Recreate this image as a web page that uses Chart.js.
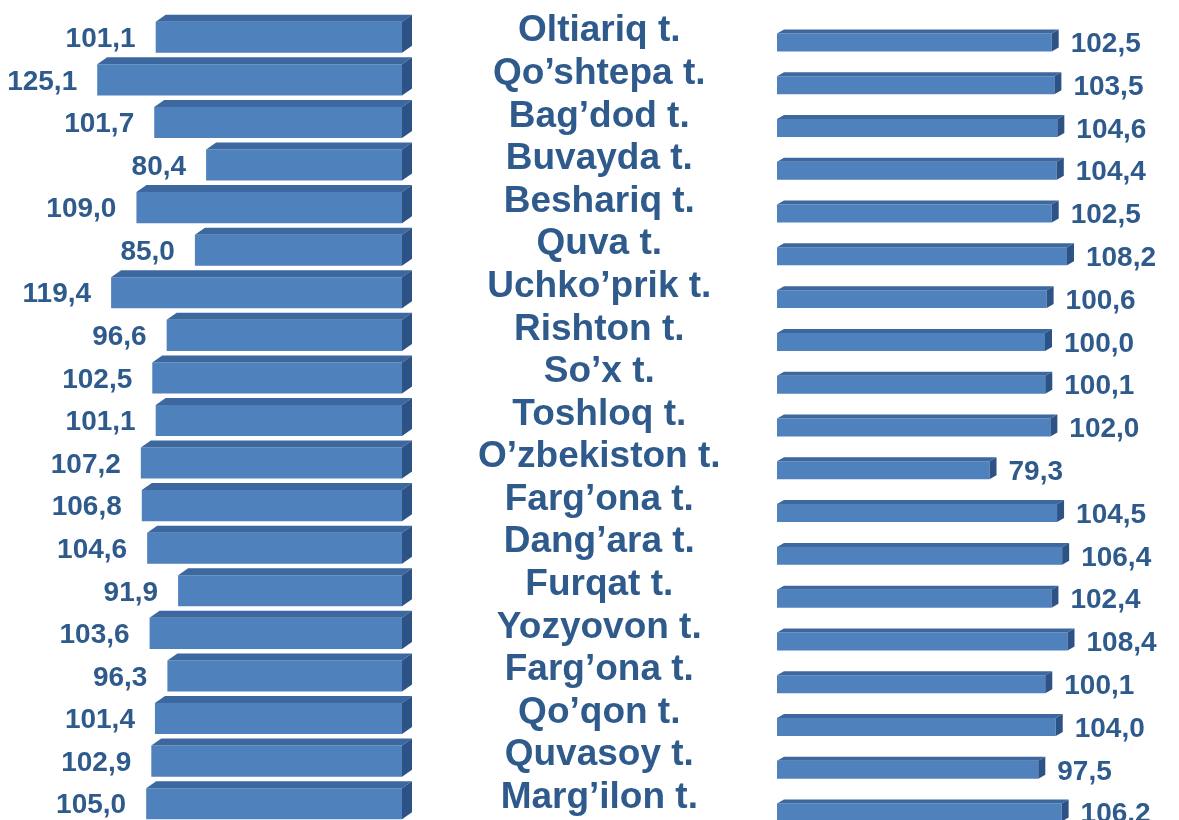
<!DOCTYPE html>
<html>
<head>
<meta charset="utf-8">
<script src="https://cdn.jsdelivr.net/npm/chart.js@4.4.1/dist/chart.umd.min.js"></script>
<style>
  html, body { margin: 0; padding: 0; background: #fff; overflow: hidden; }
  #wrap { position: relative; width: 1179px; height: 820px; overflow: hidden; }
  #leftChart { position: absolute; left: 0; top: 0; }
  #rightChart { position: absolute; left: 770px; top: 0; }
</style>
</head>
<body>
<div id="wrap">
  <canvas id="leftChart" width="732" height="830"></canvas>
  <canvas id="rightChart" width="409" height="840"></canvas>
</div>
<script>
var districts = ["Oltiariq t.", "Qo\u2019shtepa t.", "Bag\u2019dod t.", "Buvayda t.", "Beshariq t.",
  "Quva t.", "Uchko\u2019prik t.", "Rishton t.", "So\u2019x t.", "Toshloq t.", "O\u2019zbekiston t.",
  "Farg\u2019ona t.", "Dang\u2019ara t.", "Furqat t.", "Yozyovon t.", "Farg\u2019ona t.",
  "Qo\u2019qon t.", "Quvasoy t.", "Marg\u2019ilon t."];
var leftValues = [101.1, 125.1, 101.7, 80.4, 109.0, 85.0, 119.4, 96.6, 102.5, 101.1,
  107.2, 106.8, 104.6, 91.9, 103.6, 96.3, 101.4, 102.9, 105.0];
var rightValues = [102.5, 103.5, 104.6, 104.4, 102.5, 108.2, 100.6, 100.0, 100.1, 102.0,
  79.3, 104.5, 106.4, 102.4, 108.4, 100.1, 104.0, 97.5, 106.2];

var textColor = "#2f5a8c";
var faceColor = "#4f81bd";
var topColor = "#3c679f";
var sideColor = "#2d5285";

function fmt(v) { return v.toFixed(1).replace(".", ","); }

// top and side faces of each bar plus the value next to it
var bar3d = {
  id: "bar3d",
  afterDatasetsDraw: function (chart, args, opts) {
    var ctx = chart.ctx;
    var meta = chart.getDatasetMeta(0);
    var values = chart.data.datasets[0].data;
    ctx.save();
    meta.data.forEach(function (bar, i) {
      var l = Math.min(bar.x, bar.base), r = Math.max(bar.x, bar.base);
      var t = bar.y - bar.height / 2, b = bar.y + bar.height / 2;
      var dx = opts.dx, dy = opts.dy;
      ctx.fillStyle = topColor;
      ctx.beginPath();
      ctx.moveTo(l, t); ctx.lineTo(r, t); ctx.lineTo(r + dx, t - dy); ctx.lineTo(l + dx, t - dy);
      ctx.closePath(); ctx.fill();
      ctx.fillStyle = sideColor;
      ctx.beginPath();
      ctx.moveTo(r, t); ctx.lineTo(r + dx, t - dy); ctx.lineTo(r + dx, b - dy); ctx.lineTo(r, b);
      ctx.closePath(); ctx.fill();

      ctx.fillStyle = textColor;
      ctx.font = "bold 28px 'Liberation Sans', Arial, sans-serif";
      ctx.textBaseline = "middle";
      if (opts.side === "left") {
        ctx.textAlign = "right";
        ctx.fillText(fmt(values[i]), l - 20, bar.y + 2);
      } else {
        ctx.textAlign = "left";
        ctx.fillText(fmt(values[i]), r + 19, bar.y + 2);
      }
    });
    ctx.restore();
  }
};

new Chart(document.getElementById("leftChart"), {
  type: "bar",
  data: {
    labels: districts,
    datasets: [{ data: leftValues, backgroundColor: faceColor, barPercentage: 0.73, categoryPercentage: 1 }]
  },
  options: {
    indexAxis: "y",
    responsive: false,
    animation: false,
    layout: { padding: { top: 16, bottom: 5, left: 0, right: 0 } },
    plugins: { legend: { display: false }, tooltip: { enabled: false }, bar3d: { dx: 10, dy: 7, side: "left" } },
    scales: {
      x: { display: false, reverse: true, min: 0, max: 165 },
      y: {
        position: "right",
        grid: { display: false },
        border: { display: false },
        // fixed width, and no extra room above/below for the big labels
        afterFit: function (s) { s.width = 330; s.paddingTop = 0; s.paddingBottom = 0; },
        ticks: {
          autoSkip: false,
          crossAlign: "center",
          padding: 68,
          labelOffset: -6,
          color: textColor,
          font: { family: "'Liberation Sans', Arial, sans-serif", size: 37, weight: "bold", lineHeight: 1 }
        }
      }
    }
  },
  plugins: [bar3d]
});

new Chart(document.getElementById("rightChart"), {
  type: "bar",
  data: {
    labels: districts,
    datasets: [{ data: rightValues, backgroundColor: faceColor, barPercentage: 0.42, categoryPercentage: 1 }]
  },
  options: {
    indexAxis: "y",
    responsive: false,
    animation: false,
    layout: { padding: { top: 21, bottom: 6, left: 7, right: 0 } },
    plugins: { legend: { display: false }, tooltip: { enabled: false }, bar3d: { dx: 7, dy: 4, side: "right" } },
    scales: {
      x: { display: false, min: 0, max: 150 },
      y: { display: false }
    }
  },
  plugins: [bar3d]
});
</script>
</body>
</html>
